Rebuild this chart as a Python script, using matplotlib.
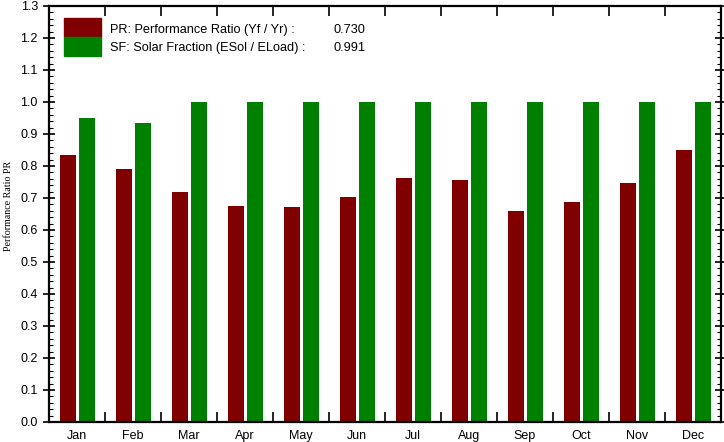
import numpy as np
import matplotlib.pyplot as plt
from matplotlib.ticker import MultipleLocator, FixedLocator

# Datos
meses = ['Jan', 'Feb', 'Mar', 'Apr', 'May', 'Jun', 'Jul', 'Aug', 'Sep', 'Oct', 'Nov', 'Dec']
pr = [0.834, 0.790, 0.719, 0.675, 0.672, 0.703, 0.762, 0.756, 0.659, 0.688, 0.747, 0.850]
sf = [0.950, 0.934, 1.000, 1.000, 1.000, 1.000, 1.000, 1.000, 1.000, 1.000, 1.000, 1.000]
pr_anual = 0.730
sf_anual = 0.991

rojo = '#800000'
verde = '#008000'

plt.rcParams['font.family'] = ['Liberation Sans', 'DejaVu Sans']

fig = plt.figure(figsize=(7.24, 4.42), dpi=100)
ax = fig.add_axes([49/724, 20/442, 672/724, 416/442])

x = np.arange(len(meses))
ax.bar(x - 0.16, pr, width=0.29, color=rojo)
ax.bar(x + 0.18, sf, width=0.29, color=verde)

ax.set_xlim(-0.5, 11.5)
ax.set_ylim(0, 1.3)

# ticks del eje x en los limites de cada mes
ax.xaxis.set_minor_locator(FixedLocator(np.arange(0.5, 11.5, 1)))
ax.set_xticks(x)
ax.set_xticklabels(meses)
ax.tick_params(axis='x', which='major', length=0, pad=6, labelsize=9)
ax.tick_params(axis='x', which='minor', direction='in', length=7, width=1.2, top=True, bottom=True)

ax.yaxis.set_major_locator(MultipleLocator(0.1))
ax.yaxis.set_minor_locator(MultipleLocator(0.02))
ax.yaxis.set_major_formatter(plt.FuncFormatter(lambda v, p: '%.1f' % v))
ax.tick_params(axis='y', which='major', direction='inout', length=9, width=1.2, left=True, right=True, labelsize=9)
ax.tick_params(axis='y', which='minor', direction='in', length=3, width=0.8, left=True, right=True)

for s in ax.spines.values():
    s.set_linewidth(1.6)

ax.set_ylabel('Performance Ratio PR', family=['Liberation Serif'], fontsize=7.2)
ax.yaxis.set_label_coords(-0.054, 0.52)

# leyenda hecha a mano
ax.add_patch(plt.Rectangle((64/724, 1 - 18/442), 37/724, -19/442, transform=fig.transFigure,
                           color=rojo, clip_on=False))
ax.add_patch(plt.Rectangle((64/724, 1 - 37/442), 37/724, -19/442, transform=fig.transFigure,
                           color=verde, clip_on=False))
fig.text(110/724, 1 - 30/442, 'PR: Performance Ratio (Yf / Yr) :', fontsize=9.2, va='center')
fig.text(110/724, 1 - 48/442, 'SF: Solar Fraction (ESol / ELoad) :', fontsize=9.2, va='center')
fig.text(333/724, 1 - 30/442, '%.3f' % pr_anual, fontsize=9.2, va='center')
fig.text(333/724, 1 - 48/442, '%.3f' % sf_anual, fontsize=9.2, va='center')

fig.savefig('out.png', dpi=100)
